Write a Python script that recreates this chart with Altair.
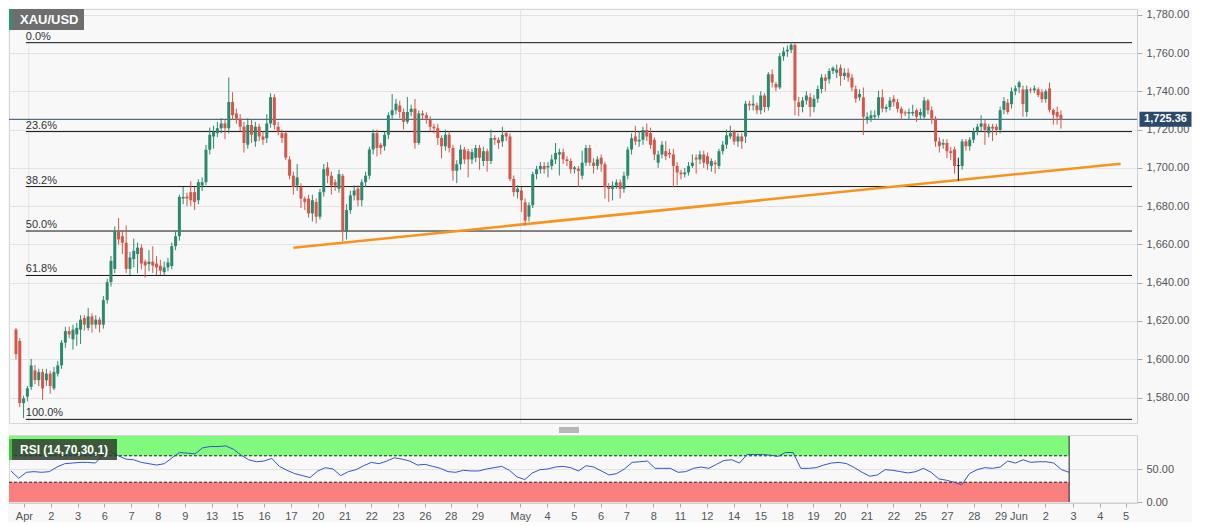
import json
import pandas as pd
import altair as alt

# ── colours ──────────────────────────────────────────────────────────────────
UP_COLOR = "#2b8a6e"
DOWN_COLOR = "#d4574a"
FLAT_COLOR = "#111111"
FIB_COLOR = "#111111"
LAST_COLOR = "#2b4a6b"
TREND_COLOR = "#f7941d"
GRID_COLOR = "#e3e3e3"
LABEL_COLOR = "#555555"
BG_COLOR = "#f8f8f9"
RSI_LINE = "#3456cc"
OB_FILL = "#7ffa7c"
OS_FILL = "#fa8080"
FONT = "Liberation Sans"

# ── data: 4h XAU/USD candles (open, high, low, close) ────────────────────────
OPENS = [
    1615.5, 1609.6, 1577.1, 1580.5, 1585.6, 1594.2, 1589.1, 1593.3, 1589.0, 1592.5,
    1584.8, 1592.5, 1596.8, 1608.7, 1614.7, 1610.4, 1613.0, 1615.5, 1621.5, 1616.4,
    1622.4, 1618.1, 1620.7, 1618.1, 1630.9, 1640.3, 1647.2, 1666.8, 1664.3, 1660.9,
    1647.2, 1652.3, 1655.0, 1658.3, 1651.0, 1649.7, 1651.0, 1650.0, 1648.9, 1645.5,
    1648.0, 1648.7, 1659.1, 1664.3, 1684.0, 1685.0, 1687.3, 1687.3, 1683.1, 1690.8,
    1692.5, 1709.5, 1716.4, 1718.1, 1720.7, 1723.2, 1720.7, 1734.4, 1728.4, 1725.8,
    1721.5, 1712.1, 1722.4, 1713.8, 1721.5, 1716.4, 1715.5, 1723.2, 1736.9, 1721.5,
    1718.1, 1718.1, 1704.4, 1695.9, 1690.8, 1689.9, 1683.9, 1683.9, 1676.2, 1682.2,
    1674.5, 1687.3, 1700.2, 1695.9, 1692.5, 1689.1, 1695.9, 1666.8, 1677.9, 1685.6,
    1689.1, 1683.1, 1692.5, 1695.9, 1709.6, 1718.1, 1712.1, 1711.3, 1717.3, 1727.5,
    1730.1, 1732.6, 1729.2, 1724.1, 1729.2, 1730.9, 1713.0, 1728.4, 1727.5, 1725.0,
    1721.5, 1720.7, 1715.6, 1711.3, 1717.3, 1710.4, 1698.5, 1701.9, 1709.6, 1708.7,
    1704.4, 1705.3, 1710.4, 1703.6, 1708.7, 1703.6, 1715.6, 1714.7, 1713.8, 1718.1,
    1716.4, 1694.2, 1687.3, 1688.2, 1682.0, 1674.5, 1680.5, 1696.7, 1699.3, 1701.0,
    1700.2, 1701.0, 1704.4, 1707.0, 1708.2, 1704.4, 1703.6, 1699.3, 1699.6, 1695.9,
    1702.7, 1710.4, 1702.7, 1701.0, 1705.3, 1701.9, 1689.9, 1689.0, 1690.8, 1692.4,
    1689.0, 1695.9, 1709.6, 1716.4, 1713.8, 1714.7, 1719.8, 1718.1, 1714.7, 1702.7,
    1707.0, 1708.7, 1707.8, 1707.0, 1701.0, 1697.6, 1696.7, 1697.6, 1701.0, 1705.3,
    1704.4, 1707.0, 1706.1, 1701.0, 1702.7, 1701.0, 1708.7, 1712.1, 1716.4, 1719.0,
    1713.8, 1716.4, 1716.4, 1733.5, 1732.6, 1732.6, 1730.1, 1737.8, 1731.8, 1748.9,
    1743.8, 1742.0, 1758.3, 1760.8, 1761.7, 1764.3, 1734.3, 1731.8, 1735.2, 1736.9,
    1731.8, 1736.1, 1741.2, 1747.2, 1746.3, 1750.6, 1749.7, 1752.3, 1748.0, 1749.7,
    1747.2, 1741.2, 1736.9, 1736.9, 1725.0, 1725.8, 1726.7, 1727.5, 1736.9, 1730.9,
    1731.8, 1736.1, 1734.3, 1730.9, 1729.0, 1728.4, 1728.4, 1730.1, 1727.5, 1726.7,
    1735.2, 1730.1, 1725.8, 1713.8, 1712.1, 1713.0, 1708.7, 1709.6, 1701.4, 1701.0,
    1713.8, 1711.3, 1714.7, 1719.0, 1721.5, 1723.2, 1718.1, 1721.5, 1721.5, 1719.8,
    1730.3, 1734.0, 1733.3, 1740.0, 1742.1, 1741.0, 1729.2, 1741.0, 1740.5, 1741.0,
    1739.5, 1735.9, 1741.5, 1730.3, 1729.2, 1727.7,
]
HIGHS = [
    1616.4, 1611.0, 1581.0, 1586.0, 1600.2, 1597.0, 1595.0, 1595.0, 1595.0, 1594.0,
    1596.0, 1599.0, 1610.0, 1617.0, 1617.0, 1618.0, 1619.0, 1623.0, 1623.0, 1626.7,
    1624.0, 1623.0, 1622.0, 1633.0, 1642.0, 1654.0, 1669.4, 1673.8, 1667.0, 1669.9,
    1656.0, 1663.0, 1661.0, 1660.0, 1652.0, 1657.0, 1659.0, 1654.0, 1652.0, 1651.0,
    1653.0, 1661.0, 1667.0, 1686.0, 1690.0, 1687.0, 1693.0, 1690.0, 1694.0, 1695.0,
    1712.0, 1721.0, 1722.0, 1724.0, 1726.0, 1725.0, 1747.2, 1739.5, 1731.0, 1728.0,
    1724.0, 1726.0, 1725.0, 1724.0, 1723.0, 1719.0, 1728.0, 1739.0, 1738.5, 1724.0,
    1720.0, 1719.0, 1706.0, 1698.0, 1702.0, 1692.0, 1685.0, 1686.0, 1686.0, 1684.0,
    1689.0, 1702.0, 1703.0, 1698.0, 1694.0, 1699.0, 1697.0, 1681.0, 1688.0, 1691.0,
    1691.0, 1694.0, 1698.0, 1711.0, 1720.0, 1720.0, 1713.0, 1719.0, 1729.0, 1738.6,
    1736.0, 1735.0, 1731.0, 1737.0, 1733.0, 1736.0, 1730.0, 1730.0, 1729.0, 1727.0,
    1723.0, 1723.0, 1717.0, 1720.0, 1719.0, 1712.0, 1704.0, 1712.0, 1711.0, 1710.0,
    1710.0, 1712.0, 1712.0, 1711.0, 1710.0, 1720.0, 1717.0, 1716.0, 1721.5, 1719.0,
    1718.0, 1696.0, 1691.0, 1690.0, 1684.0, 1682.0, 1698.0, 1701.0, 1703.0, 1703.0,
    1703.0, 1707.0, 1713.0, 1710.0, 1710.0, 1706.0, 1705.0, 1701.0, 1701.0, 1709.0,
    1712.0, 1712.0, 1705.0, 1706.0, 1707.0, 1703.0, 1692.0, 1693.0, 1694.0, 1694.0,
    1698.0, 1711.0, 1718.0, 1722.0, 1719.0, 1721.5, 1723.2, 1721.0, 1716.0, 1709.0,
    1714.0, 1714.0, 1710.0, 1710.0, 1703.0, 1699.0, 1700.0, 1703.0, 1707.0, 1707.0,
    1709.0, 1709.0, 1708.0, 1705.0, 1704.0, 1710.0, 1714.0, 1720.0, 1722.0, 1720.0,
    1718.0, 1718.0, 1735.0, 1735.0, 1738.0, 1734.0, 1740.0, 1739.0, 1750.0, 1751.4,
    1745.0, 1760.0, 1763.0, 1764.0, 1765.5, 1765.0, 1737.0, 1737.0, 1740.0, 1739.0,
    1738.0, 1743.0, 1749.0, 1749.0, 1752.0, 1753.0, 1754.0, 1754.0, 1752.0, 1752.0,
    1749.0, 1743.0, 1741.0, 1742.0, 1729.0, 1730.0, 1730.0, 1740.3, 1741.0, 1733.0,
    1737.0, 1738.0, 1736.0, 1732.0, 1730.0, 1731.0, 1733.0, 1731.0, 1731.0, 1737.0,
    1736.0, 1732.0, 1727.0, 1716.0, 1715.0, 1715.0, 1711.0, 1711.0, 1705.3, 1715.0,
    1715.0, 1716.0, 1721.0, 1723.0, 1727.5, 1725.0, 1723.0, 1723.0, 1723.0, 1732.0,
    1737.0, 1736.0, 1742.0, 1743.0, 1745.5, 1743.0, 1743.0, 1742.0, 1743.1, 1742.0,
    1741.0, 1741.0, 1744.6, 1731.0, 1732.0, 1730.0,
]
LOWS = [
    1600.0, 1575.0, 1569.2, 1578.0, 1584.0, 1587.0, 1586.0, 1578.8, 1586.0, 1582.0,
    1583.9, 1591.0, 1595.0, 1606.0, 1611.0, 1605.0, 1607.0, 1608.0, 1615.0, 1615.0,
    1614.0, 1616.0, 1614.0, 1616.0, 1629.0, 1638.0, 1645.0, 1660.0, 1655.0, 1645.0,
    1644.0, 1648.0, 1645.0, 1647.0, 1642.6, 1646.0, 1645.0, 1644.0, 1644.0, 1644.0,
    1646.0, 1647.0, 1657.0, 1662.0, 1681.0, 1680.0, 1680.0, 1678.0, 1681.0, 1688.0,
    1691.0, 1707.0, 1710.0, 1716.0, 1718.0, 1715.0, 1718.0, 1725.0, 1723.0, 1719.0,
    1708.0, 1710.0, 1713.0, 1711.0, 1714.0, 1712.0, 1713.0, 1721.0, 1720.0, 1717.0,
    1713.0, 1704.0, 1694.0, 1686.0, 1688.0, 1679.0, 1678.0, 1674.0, 1672.0, 1671.0,
    1673.0, 1685.0, 1692.0, 1686.0, 1688.0, 1687.0, 1661.7, 1662.6, 1676.0, 1683.0,
    1680.0, 1680.0, 1690.0, 1694.0, 1707.0, 1706.0, 1707.0, 1709.0, 1715.0, 1725.0,
    1728.0, 1726.0, 1720.0, 1723.0, 1727.0, 1710.0, 1712.0, 1725.0, 1723.0, 1719.0,
    1718.0, 1712.0, 1705.0, 1709.0, 1708.0, 1693.3, 1692.0, 1699.0, 1702.0, 1695.0,
    1702.0, 1703.0, 1699.0, 1701.0, 1698.0, 1702.0, 1712.0, 1710.0, 1711.0, 1714.0,
    1693.0, 1685.0, 1684.0, 1677.0, 1670.0, 1672.0, 1679.0, 1694.0, 1697.0, 1697.0,
    1695.0, 1699.0, 1702.0, 1696.0, 1702.0, 1701.0, 1697.0, 1697.0, 1690.0, 1694.0,
    1701.0, 1701.0, 1697.0, 1699.0, 1698.0, 1683.9, 1682.2, 1683.0, 1689.0, 1684.0,
    1687.0, 1694.0, 1707.0, 1712.0, 1711.0, 1712.0, 1714.0, 1710.0, 1704.0, 1700.0,
    1705.0, 1704.0, 1705.0, 1689.9, 1691.0, 1694.0, 1695.0, 1696.0, 1700.0, 1697.0,
    1702.0, 1700.0, 1699.0, 1698.0, 1697.0, 1699.3, 1707.0, 1710.0, 1715.0, 1712.0,
    1711.0, 1710.0, 1713.0, 1730.0, 1730.0, 1728.0, 1728.0, 1729.0, 1730.0, 1742.0,
    1740.0, 1741.0, 1756.0, 1758.0, 1760.0, 1727.5, 1727.0, 1729.0, 1733.0, 1726.7,
    1729.0, 1734.0, 1739.0, 1740.0, 1744.0, 1749.0, 1747.0, 1742.9, 1746.0, 1745.0,
    1740.0, 1734.0, 1735.0, 1717.2, 1723.0, 1724.0, 1725.0, 1726.0, 1729.0, 1729.0,
    1730.0, 1732.0, 1729.0, 1725.0, 1727.0, 1725.0, 1727.0, 1724.0, 1725.0, 1725.0,
    1728.0, 1723.0, 1711.0, 1708.0, 1710.0, 1705.0, 1704.0, 1697.0, 1693.3, 1699.0,
    1709.0, 1709.0, 1713.0, 1717.0, 1719.0, 1712.0, 1716.0, 1714.0, 1717.0, 1718.0,
    1728.0, 1728.0, 1731.0, 1738.0, 1739.0, 1726.7, 1726.7, 1739.0, 1739.0, 1737.0,
    1734.0, 1734.0, 1729.0, 1722.6, 1722.6, 1720.5,
]
CLOSES = [
    1602.7, 1577.1, 1579.6, 1584.8, 1596.8, 1589.1, 1593.3, 1584.8, 1592.5, 1586.0,
    1593.3, 1596.8, 1608.7, 1614.7, 1613.0, 1615.5, 1616.4, 1620.7, 1618.1, 1622.4,
    1618.1, 1620.7, 1618.1, 1630.9, 1640.3, 1651.4, 1666.8, 1662.6, 1660.9, 1647.2,
    1653.2, 1656.6, 1658.3, 1650.0, 1649.0, 1651.0, 1648.9, 1648.0, 1646.3, 1648.0,
    1650.6, 1659.1, 1664.3, 1684.8, 1684.8, 1684.0, 1683.1, 1682.2, 1692.5, 1692.5,
    1709.5, 1717.3, 1718.9, 1720.7, 1723.2, 1720.7, 1734.4, 1727.5, 1725.8, 1721.5,
    1713.0, 1722.4, 1717.3, 1721.5, 1716.4, 1714.7, 1723.2, 1736.9, 1722.4, 1719.0,
    1715.6, 1705.3, 1695.9, 1689.9, 1695.0, 1683.9, 1682.2, 1676.2, 1683.1, 1674.5,
    1687.3, 1699.3, 1695.9, 1690.8, 1690.8, 1696.7, 1666.8, 1677.9, 1685.6, 1688.2,
    1683.1, 1692.5, 1695.9, 1709.6, 1718.1, 1710.4, 1710.4, 1717.3, 1727.5, 1730.1,
    1733.5, 1729.2, 1724.1, 1729.2, 1730.9, 1713.0, 1728.4, 1727.5, 1725.8, 1721.5,
    1720.7, 1715.6, 1711.3, 1717.3, 1710.4, 1698.5, 1701.9, 1709.6, 1704.4, 1704.4,
    1708.2, 1710.4, 1705.3, 1708.7, 1703.6, 1715.6, 1714.7, 1713.0, 1717.3, 1716.4,
    1694.2, 1687.3, 1689.1, 1683.1, 1672.5, 1680.5, 1696.7, 1699.3, 1701.0, 1699.3,
    1701.0, 1704.4, 1707.8, 1708.2, 1704.4, 1703.6, 1699.3, 1700.2, 1698.4, 1702.7,
    1710.4, 1702.7, 1701.0, 1704.4, 1701.9, 1689.9, 1689.0, 1690.8, 1692.4, 1689.0,
    1695.9, 1709.6, 1715.5, 1713.8, 1714.7, 1719.8, 1716.4, 1712.0, 1707.0, 1707.0,
    1712.1, 1706.1, 1707.0, 1701.0, 1697.6, 1696.7, 1697.6, 1701.0, 1702.7, 1704.4,
    1707.0, 1702.7, 1701.9, 1703.6, 1701.9, 1708.7, 1712.1, 1717.0, 1718.1, 1713.8,
    1716.4, 1713.8, 1733.5, 1732.6, 1733.5, 1730.1, 1737.8, 1731.8, 1748.9, 1744.6,
    1742.0, 1758.3, 1760.8, 1761.7, 1764.3, 1735.2, 1731.8, 1735.2, 1737.8, 1731.8,
    1736.1, 1741.2, 1747.2, 1745.5, 1750.6, 1752.3, 1751.4, 1748.0, 1749.7, 1747.2,
    1742.0, 1736.1, 1738.6, 1726.7, 1726.7, 1727.5, 1727.5, 1736.9, 1731.0, 1731.8,
    1735.2, 1734.3, 1730.9, 1728.4, 1728.4, 1729.2, 1729.2, 1726.7, 1729.2, 1735.2,
    1730.1, 1725.8, 1713.8, 1711.3, 1713.0, 1708.7, 1707.8, 1701.0, 1701.0, 1713.8,
    1711.3, 1714.7, 1719.0, 1721.5, 1723.2, 1719.8, 1721.5, 1720.5, 1719.8, 1730.1,
    1734.9, 1729.2, 1740.0, 1741.5, 1744.6, 1733.3, 1741.0, 1740.5, 1741.5, 1738.0,
    1735.9, 1740.0, 1730.3, 1727.7, 1726.7, 1725.4,
]

# RSI(14), one reading every second candle
RSI = [
    47, 36, 45, 46, 45, 46, 53, 58, 59, 60,
    60, 59, 71, 77, 70, 65, 64, 60, 58, 56,
    58, 67, 75, 74, 73, 82, 84, 84, 85, 80,
    71, 64, 61, 62, 66, 54, 48, 43, 40, 37,
    47, 52, 50, 40, 46, 49, 55, 60, 58, 62,
    67, 65, 62, 56, 57, 54, 51, 46, 45, 48,
    47, 47, 50, 52, 54, 48, 38, 34, 44, 49,
    50, 53, 54, 52, 47, 55, 53, 47, 41, 43,
    50, 60, 61, 62, 51, 51, 51, 45, 46, 51,
    53, 51, 57, 63, 64, 59, 72, 72, 72, 71,
    69, 75, 75, 51, 51, 52, 56, 59, 60, 58,
    52, 45, 39, 41, 49, 48, 46, 44, 46, 51,
    45, 35, 33, 30, 26, 43, 49, 52, 51, 53,
    62, 59, 64, 60, 61, 61, 59, 49, 45,
]

# date labels along the candle index
TICK_POS = [
    3.37, 10.36, 17.35, 24.34, 31.33, 38.32, 45.31, 52.30, 59.03, 66.02,
    73.01, 80.00, 86.99, 93.98, 100.97, 107.96, 114.69, 121.68, 132.81, 139.81,
    146.80, 153.79, 160.52, 167.51, 174.50, 181.49, 188.48, 195.47, 202.46, 209.19,
    216.18, 223.17, 230.16, 237.15, 244.14, 251.13, 258.12, 262.78, 269.77, 277.02,
    284.01, 290.74,
]
TICK_LABELS = [
    "Apr", "2", "3", "6", "7", "8", "9", "13", "15", "16",
    "17", "20", "21", "22", "23", "26", "28", "29", "May", "4",
    "5", "6", "7", "8", "11", "12", "14", "15", "18", "19",
    "20", "21", "22", "25", "27", "28", "29", "Jun", "2", "3",
    "4", "5",
]
MONTH_POS = [3.37, 132.81, 262.78]

PRICE_TICKS = [1580, 1600, 1620, 1640, 1660, 1680, 1700, 1720, 1740, 1760, 1780]
RSI_TICKS = [0, 50]

FIB_HIGH = 1765.4
FIB_LOW = 1568.6
FIB_RATIOS = [0.0, 0.236, 0.382, 0.5, 0.618, 1.0]
FIB_LABELS = ["0.0%", "23.6%", "38.2%", "50.0%", "61.8%", "100.0%"]

TREND_X = [73.0, 290.7]
TREND_Y = [1658.3, 1702.2]

LAST_PRICE = 1725.36
RSI_UPPER, RSI_LOWER = 70, 30

# ── layout ───────────────────────────────────────────────────────────────────
W = 1128
H_PRICE = 414
H_RSI = 68
X_MIN, X_MAX = -0.52, 293.7
BAND_END = 276.0
FIB_START = 2.59

xscale = alt.Scale(domain=[X_MIN, X_MAX], nice=False, zero=False)
yscale = alt.Scale(domain=[1566.7, 1783], nice=False, zero=False)
rscale = alt.Scale(domain=[-1.5, 101.5], nice=False, zero=False)

yaxis = alt.Axis(
    orient="right", values=PRICE_TICKS, format=",.2f", title=None,
    grid=True, gridColor=GRID_COLOR, labelColor=LABEL_COLOR, labelFontSize=11,
    tickColor="#aaaaaa", tickSize=5, domainColor="#cfcfcf", labelPadding=4,
)
raxis = alt.Axis(
    orient="right", values=RSI_TICKS, format=".2f", title=None,
    grid=True, gridColor=GRID_COLOR, labelColor=LABEL_COLOR, labelFontSize=11,
    tickColor="#aaaaaa", tickSize=5, domainColor="#cfcfcf", labelPadding=4,
)
label_expr = f"{json.dumps(TICK_LABELS)}[indexof({json.dumps(TICK_POS)}, datum.value)]"
xaxis = alt.Axis(
    values=TICK_POS, labelExpr=label_expr, title=None, grid=False,
    labelColor=LABEL_COLOR, labelFontSize=11, tickColor="#aaaaaa", tickSize=4,
    domainColor="#cfcfcf", labelPadding=3, labelOverlap=False, labelFlush=False,
)

# ── tables ───────────────────────────────────────────────────────────────────
candles = pd.DataFrame({
    "i": range(len(CLOSES)),
    "open": OPENS, "high": HIGHS, "low": LOWS, "close": CLOSES,
})
candles["high"] = candles[["high", "open", "close"]].max(axis=1)
candles["low"] = candles[["low", "open", "close"]].min(axis=1)
diff = candles["close"] - candles["open"]
candles["dir"] = "flat"
candles.loc[diff >= 0.45, "dir"] = "up"
candles.loc[diff <= -0.45, "dir"] = "down"

dir_scale = alt.Scale(domain=["up", "down", "flat"], range=[UP_COLOR, DOWN_COLOR, FLAT_COLOR])

fib = pd.DataFrame({
    "level": [FIB_HIGH - r * (FIB_HIGH - FIB_LOW) for r in FIB_RATIOS],
    "label": FIB_LABELS,
})
fib["x0"] = FIB_START
fib["x1"] = X_MAX

trend = pd.DataFrame({"i": TREND_X, "p": TREND_Y})
months = pd.DataFrame({"m": MONTH_POS})
last = pd.DataFrame({"p": [LAST_PRICE], "t": [f"{LAST_PRICE:,.2f}"]})
one = pd.DataFrame({"t": ["XAU/USD"]})

rsi = pd.DataFrame({"i": [2 * j for j in range(len(RSI))], "rsi": RSI})
bands = pd.DataFrame({
    "y0": [RSI_UPPER, 0], "y1": [100, RSI_LOWER], "c": [OB_FILL, OS_FILL],
})
bands["x0"] = X_MIN
bands["x1"] = BAND_END
levels = pd.DataFrame({"y": [RSI_UPPER, RSI_LOWER]})
levels["x0"] = X_MIN
levels["x1"] = BAND_END
edge = pd.DataFrame({"x": [BAND_END], "y0": [0], "y1": [100]})
rsi_tag = pd.DataFrame({"t": ["RSI (14,70,30,1)"]})
handle = pd.DataFrame({"k": [-7, -5, -3]})   # pixel rows of the pane-resize grip

# ── price panel ──────────────────────────────────────────────────────────────
month_rules = alt.Chart(months).mark_rule(color=GRID_COLOR).encode(
    x=alt.X("m:Q", scale=xscale, axis=None),
)
fib_rules = alt.Chart(fib).mark_rule(color=FIB_COLOR, strokeWidth=1).encode(
    x=alt.X("x0:Q", scale=xscale, axis=None),
    x2="x1:Q",
    y=alt.Y("level:Q", scale=yscale, axis=yaxis),
)
fib_text = alt.Chart(fib).mark_text(
    align="left", baseline="alphabetic", dy=-3, fontSize=11, color="#333333", font=FONT,
).encode(
    x=alt.X("x0:Q", scale=xscale, axis=None),
    y=alt.Y("level:Q", scale=yscale, axis=yaxis),
    text="label:N",
)
trend_line = alt.Chart(trend).mark_line(color=TREND_COLOR, strokeWidth=2.5).encode(
    x=alt.X("i:Q", scale=xscale, axis=None),
    y=alt.Y("p:Q", scale=yscale, axis=yaxis),
)
last_rule = alt.Chart(last).mark_rule(color=LAST_COLOR, strokeWidth=1).encode(
    y=alt.Y("p:Q", scale=yscale, axis=yaxis),
)
wicks = alt.Chart(candles).mark_rule(strokeWidth=1).encode(
    x=alt.X("i:Q", scale=xscale, axis=None),
    y=alt.Y("low:Q", scale=yscale, axis=yaxis),
    y2="high:Q",
    color=alt.Color("dir:N", scale=dir_scale, legend=None),
)
bodies = alt.Chart(candles).mark_bar(size=3).encode(
    x=alt.X("i:Q", scale=xscale, axis=None),
    y=alt.Y("open:Q", scale=yscale, axis=yaxis),
    y2="close:Q",
    color=alt.Color("dir:N", scale=dir_scale, legend=None),
)
last_box = alt.Chart(last).mark_rect(width=52, height=15, color=LAST_COLOR).encode(
    x=alt.value(1156.5),
    y=alt.Y("p:Q", scale=yscale, axis=yaxis),
)
last_text = alt.Chart(last).mark_text(
    align="center", baseline="middle", fontSize=11, fontWeight="bold", color="white", font=FONT,
).encode(
    x=alt.value(1156.5),
    y=alt.Y("p:Q", scale=yscale, axis=yaxis),
    text="t:N",
)
sym_box = alt.Chart(one).mark_rect(color="#6e6e6e").encode(
    x=alt.value(0), x2=alt.value(75), y=alt.value(0), y2=alt.value(21),
)
sym_stripe = alt.Chart(one).mark_rect(color="#2f8f77").encode(
    x=alt.value(0), x2=alt.value(3), y=alt.value(0), y2=alt.value(21),
)
sym_text = alt.Chart(one).mark_text(
    align="left", baseline="middle", fontSize=13, fontWeight="bold", color="white", font=FONT,
).encode(x=alt.value(11), y=alt.value(11), text="t:N")

price = alt.layer(
    month_rules, fib_rules, fib_text, trend_line, last_rule, wicks, bodies,
    last_box, last_text, sym_box, sym_stripe, sym_text,
).properties(width=W, height=H_PRICE)

# ── RSI panel ────────────────────────────────────────────────────────────────
band_rects = alt.Chart(bands).mark_rect().encode(
    x=alt.X("x0:Q", scale=xscale, axis=xaxis),
    x2="x1:Q",
    y=alt.Y("y0:Q", scale=rscale, axis=raxis),
    y2="y1:Q",
    color=alt.Color("c:N", scale=None),
)
level_rules = alt.Chart(levels).mark_rule(color="#222222", strokeDash=[3, 2], strokeWidth=1).encode(
    x=alt.X("x0:Q", scale=xscale, axis=xaxis),
    x2="x1:Q",
    y=alt.Y("y:Q", scale=rscale, axis=raxis),
)
edge_rule = alt.Chart(edge).mark_rule(color="#222222", strokeWidth=1).encode(
    x=alt.X("x:Q", scale=xscale, axis=xaxis),
    y=alt.Y("y0:Q", scale=rscale, axis=raxis),
    y2="y1:Q",
)
rsi_line = alt.Chart(rsi).mark_line(color=RSI_LINE, strokeWidth=1).encode(
    x=alt.X("i:Q", scale=xscale, axis=xaxis),
    y=alt.Y("rsi:Q", scale=rscale, axis=raxis),
)
tag_box = alt.Chart(rsi_tag).mark_rect(color="#2e3d2f", opacity=0.85).encode(
    x=alt.value(0), x2=alt.value(108), y=alt.value(4), y2=alt.value(25),
)
tag_stripe = alt.Chart(rsi_tag).mark_rect(color="#3fc43f").encode(
    x=alt.value(0), x2=alt.value(3), y=alt.value(4), y2=alt.value(25),
)
tag_text = alt.Chart(rsi_tag).mark_text(
    align="left", baseline="middle", fontSize=12, fontWeight="bold", color="white", font=FONT,
).encode(x=alt.value(11), y=alt.value(15), text="t:N")
grip = alt.Chart(handle).mark_rule(color="#777777", strokeWidth=1).encode(
    x=alt.value(550), x2=alt.value(570), y=alt.Y("k:Q", scale=None, axis=None),
)

rsi_panel = alt.layer(
    band_rects, level_rules, edge_rule, rsi_line, tag_box, tag_stripe, tag_text, grip,
).properties(width=W, height=H_RSI)

chart = (
    alt.vconcat(price, rsi_panel, spacing=3)
    .properties(padding={"left": 0, "top": 0, "right": 0, "bottom": 0})
    .configure(background=BG_COLOR, font=FONT)
    .configure_view(stroke="#d6d6d6", strokeWidth=1)
)

chart.save("out.html", embed_options={"renderer": "svg", "actions": False})
